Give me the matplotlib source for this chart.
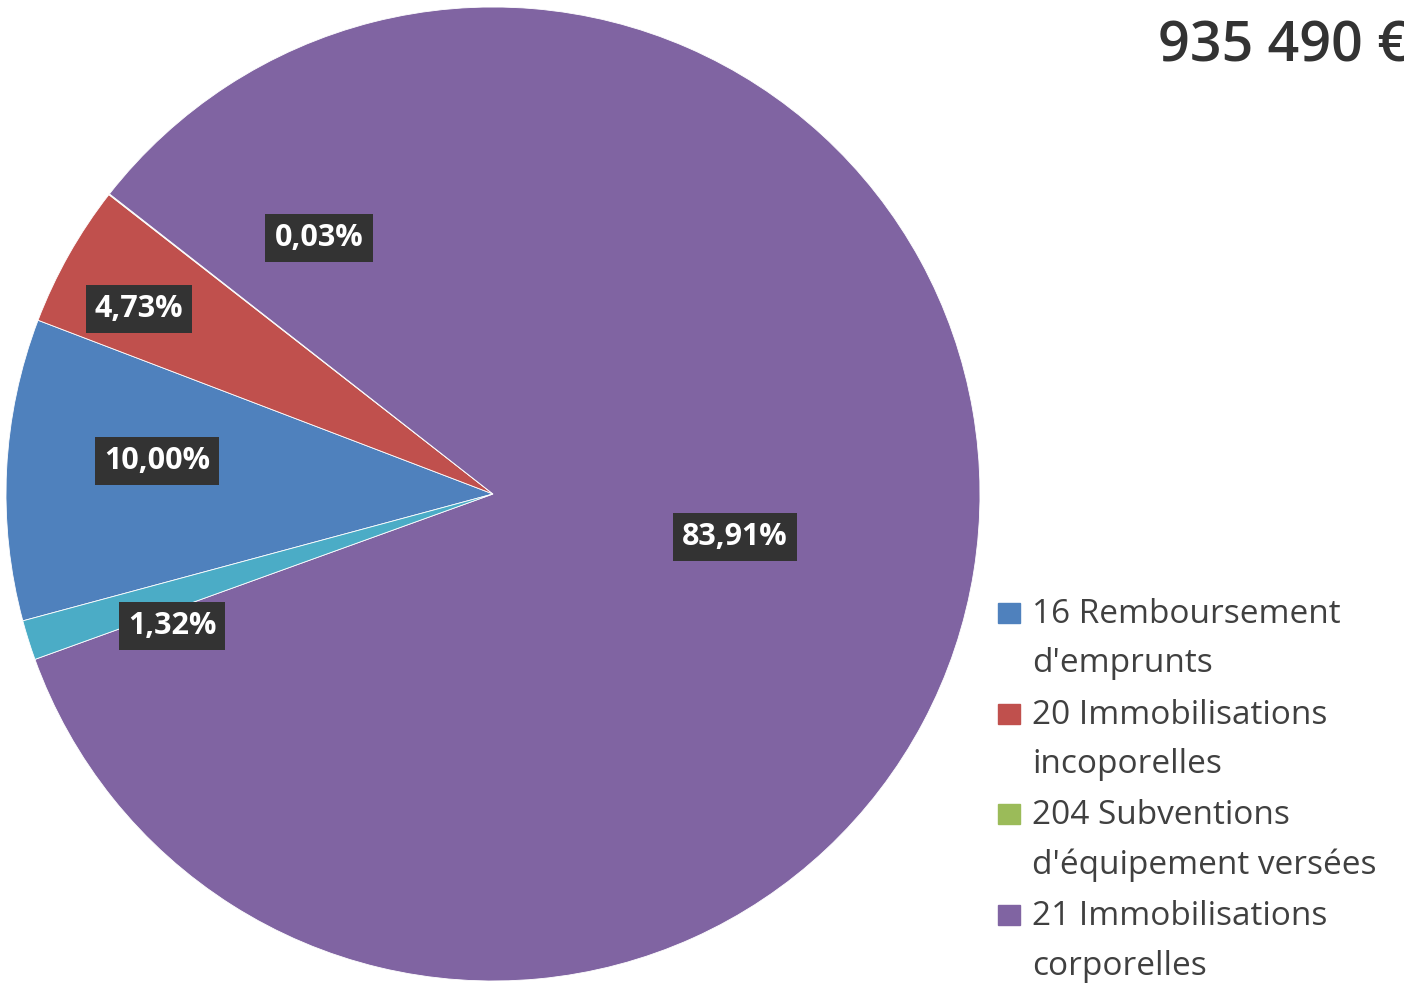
import matplotlib.pyplot as plt
from matplotlib.patches import Rectangle

plt.rcParams['font.family'] = ['Open Sans', 'DejaVu Sans']

# données
categories = ["16 Remboursement\nd'emprunts",
              "20 Immobilisations\nincoporelles",
              "204 Subventions\nd'équipement versées",
              "21 Immobilisations\ncorporelles",
              "23 Immobilisations en cours"]
values = [10.00, 4.73, 0.03, 83.91, 1.32]
colors = ['#4F81BD', '#C0504D', '#9BBB59', '#8064A2', '#4BACC6']
total_label = "935 490 €"
n_legend = 4  # seules les 4 premières entrées sont visibles

W, H = 1404, 983
fig = plt.figure(figsize=(W / 100, H / 100), dpi=100)
ax = fig.add_axes([0, 0, 1, 1])

pct_labels = [f"{v:.2f}%".replace('.', ',') for v in values]

wedges, texts = ax.pie(
    values, colors=colors, startangle=195.1, counterclock=False,
    center=(493, H - 494), radius=487, labels=pct_labels,
    wedgeprops=dict(edgecolor='white', linewidth=0.6))

ax.set_xlim(0, W)
ax.set_ylim(0, H)
ax.set_aspect('equal')
ax.axis('off')

# position des étiquettes (pixels)
label_pos = [(157, 461), (139, 309), (319, 238), (735, 537), (172, 626)]
for t, (x, y) in zip(texts, label_pos):
    t.set_position((x, H - y))
    t.set_ha('center')
    t.set_va('center')
    t.set_color('white')
    t.set_fontweight('bold')
    t.set_fontsize(22)
    t.set_bbox(dict(boxstyle='square,pad=0.3', fc='#333333', ec='none'))

# légende
lx, ly, step, line_h = 998, 623, 100.7, 49.5
for i in range(n_legend):
    y0 = ly + i * step
    ax.add_patch(Rectangle((lx, H - y0), 22, 20, color=colors[i], clip_on=False))
    for k, line in enumerate(categories[i].split('\n')):
        ax.text(1032, H - (y0 + k * line_h), line, fontsize=24,
                color='#404040', ha='left', va='baseline')

# total
ax.text(1158, H - 62, total_label, fontsize=40, fontweight='semibold',
        color='#333333', ha='left', va='baseline')

fig.savefig('out.png', dpi=100)
